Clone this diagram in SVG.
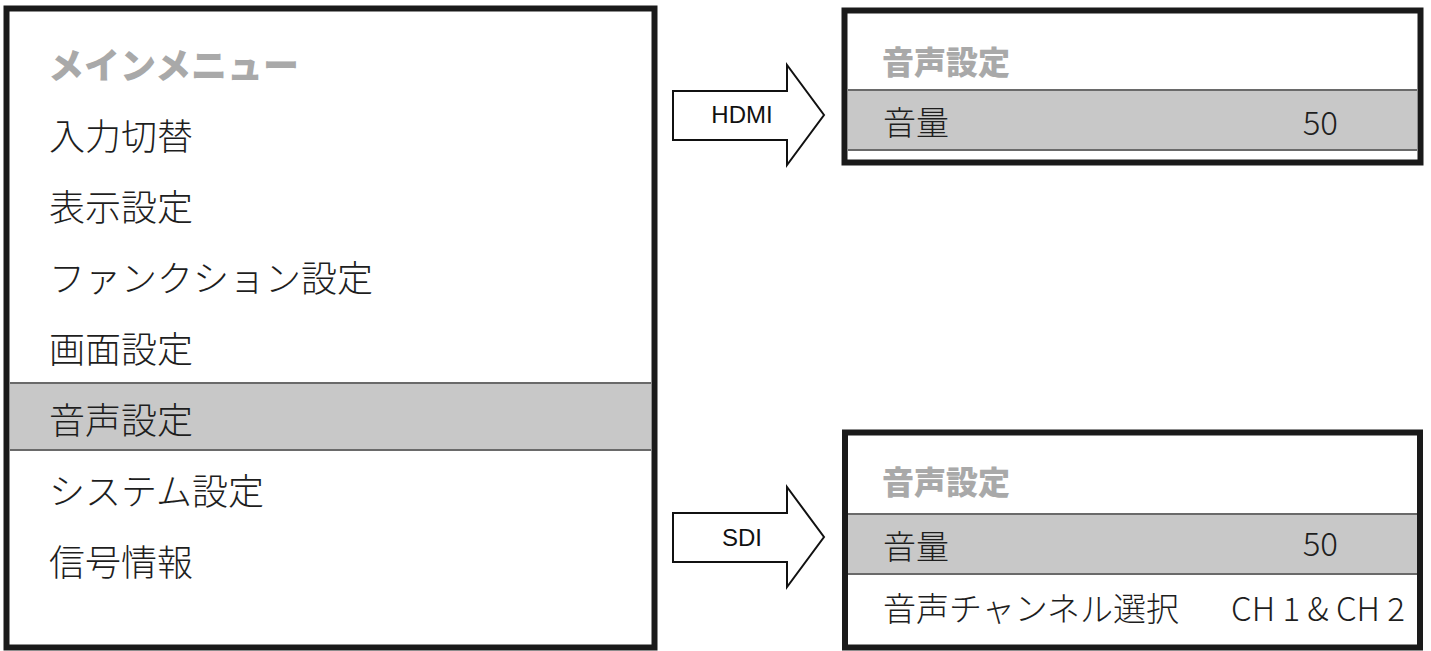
<svg xmlns="http://www.w3.org/2000/svg" width="1431" height="651" viewBox="0 0 1431 651">
<style>
.frame{fill:#fff;stroke:#1a1a1a;stroke-width:6}
.sel{fill:#c8c8c8}
.sep{stroke:#6a6a6a;stroke-width:2}
.t{font-family:"Noto Sans CJK JP","Noto Sans",sans-serif;font-weight:300;fill:#1e1e1e}
.m{font-size:36px}
.r{font-size:33px}
.h{font-family:"Noto Sans CJK JP","Noto Sans",sans-serif;font-weight:900;fill:#a9a9a9}
.arrow{fill:#fff;stroke:#111;stroke-width:2;stroke-linejoin:miter}
.al{font-family:"Liberation Sans",Arial,sans-serif;font-size:24px;fill:#111;text-anchor:middle}
</style>
<rect width="1431" height="651" fill="#fff"/>
<g id="main-menu">
<rect class="frame" x="6.5" y="8.5" width="648" height="639"/>
<rect class="sel" x="10" y="383" width="641" height="67"/>
<line class="sep" x1="10" y1="383" x2="651" y2="383"/>
<line class="sep" x1="10" y1="450" x2="651" y2="450"/>
<text class="h" x="48" y="79" font-size="36">メインメニュー</text>
<text class="t m" x="49" y="150">入力切替</text>
<text class="t m" x="49" y="221">表示設定</text>
<text class="t m" x="49" y="292">ファンクション設定</text>
<text class="t m" x="49" y="363">画面設定</text>
<text class="t m" x="49" y="434">音声設定</text>
<text class="t m" x="49" y="505">システム設定</text>
<text class="t m" x="49" y="576">信号情報</text>
</g>
<g id="hdmi-menu">
<rect class="frame" x="844.5" y="10.5" width="576" height="152"/>
<rect class="sel" x="848" y="90" width="569" height="60"/>
<line class="sep" x1="848" y1="90" x2="1417" y2="90"/>
<line class="sep" x1="848" y1="150" x2="1417" y2="150"/>
<text class="h" x="882" y="74" font-size="32">音声設定</text>
<text class="t r" x="883" y="135">音量</text>
<text class="t r" x="1338" y="135" text-anchor="end">50</text>
</g>
<g id="sdi-menu">
<rect class="frame" x="845" y="432.5" width="575" height="215"/>
<rect class="sel" x="848" y="514" width="569" height="60"/>
<line class="sep" x1="848" y1="514" x2="1417" y2="514"/>
<line class="sep" x1="848" y1="574" x2="1417" y2="574"/>
<text class="h" x="882" y="494" font-size="32">音声設定</text>
<text class="t r" x="883" y="559">音量</text>
<text class="t r" x="1338" y="556" text-anchor="end">50</text>
<text class="t r" x="883" y="621">音声チャンネル選択</text>
<text class="t r" x="1405" y="621" text-anchor="end">CH 1 &amp; CH 2</text>
</g>
<g id="connectors">
<g id="arrow-hdmi">
<polygon class="arrow" points="673,91 787,91 787,65 824,115 787,165 787,140 673,140"/>
<text class="al" x="742" y="123">HDMI</text>
</g>
<g id="arrow-sdi">
<polygon class="arrow" points="673,513 787,513 787,487 824,537 787,587 787,562 673,562"/>
<text class="al" x="742" y="546">SDI</text>
</g>
</g>
</svg>
